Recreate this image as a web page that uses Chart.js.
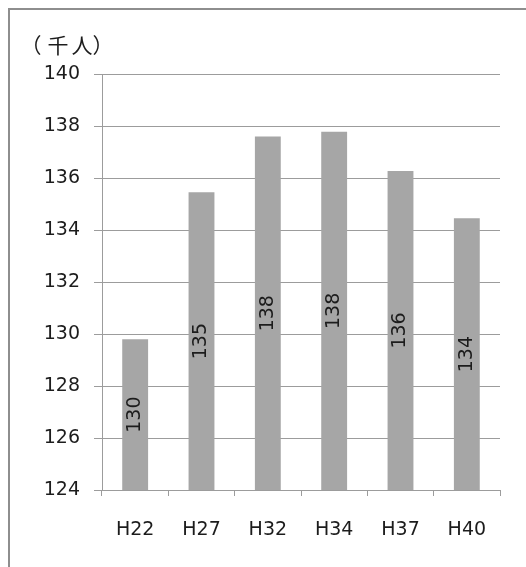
<!DOCTYPE html>
<html>
<head>
<meta charset="utf-8">
<script src="https://cdn.jsdelivr.net/npm/chart.js@4/dist/chart.umd.min.js"></script>
<style>
  html, body { margin: 0; padding: 0; background: #fff; }
  body { width: 526px; height: 567px; position: relative; overflow: hidden; }
  .frame {
    position: absolute; left: 8px; top: 8px; width: 640px; height: 640px;
    border-left: 2px solid #8e8e8e; border-top: 2px solid #8e8e8e;
  }
  .wrap { position: absolute; left: 0; top: 0; width: 526px; height: 567px; }
</style>
</head>
<body>
<div class="frame"></div>
<div class="wrap"><canvas id="chart" width="526" height="567"></canvas></div>
<script>
// 年次別の人口推計（千人）
const categories = ['H22', 'H27', 'H32', 'H34', 'H37', 'H40'];
const population = [129.8, 135.45, 137.6, 137.78, 136.27, 134.45];
const unitLabel = '（千人）';
const yMin = 124, yMax = 140, yStep = 2;

const FONT = "'DejaVu Sans', 'Noto Sans CJK JP', sans-serif";
const TEXT = '#1c1c1c';
const LINE = '#9c9c9c';

// 単位ラベル（左上）：一文字ずつ中心位置を指定して描く
const unitPlugin = {
  id: 'unitLabel',
  afterDraw(chart) {
    const ctx = chart.ctx;
    const centers = [31, 58, 82, 103];
    ctx.save();
    ctx.font = "21px 'Noto Sans CJK JP', sans-serif";
    ctx.fillStyle = TEXT;
    ctx.textAlign = 'center';
    ctx.textBaseline = 'middle';
    Array.from(unitLabel).forEach((ch, i) => {
      ctx.fillText(ch, centers[i], 45);
    });
    ctx.restore();
  }
};

// 棒の中央に縦書き（回転）で値を表示
const barValuePlugin = {
  id: 'barValues',
  afterDatasetsDraw(chart) {
    const ctx = chart.ctx;
    const meta = chart.getDatasetMeta(0);
    const values = chart.data.datasets[0].data;
    const yScale = chart.scales.y;
    ctx.save();
    ctx.font = '19px ' + FONT;
    ctx.fillStyle = TEXT;
    ctx.textAlign = 'center';
    ctx.textBaseline = 'middle';
    meta.data.forEach((bar, i) => {
      const x = bar.x;
      const top = yScale.getPixelForValue(values[i]);
      const base = yScale.getPixelForValue(yMin);
      const cy = (top + base) / 2;
      ctx.save();
      ctx.translate(x, cy);
      ctx.rotate(-Math.PI / 2);
      ctx.fillText(String(Math.round(values[i])), 0, 0);
      ctx.restore();
    });
    ctx.restore();
  }
};

new Chart(document.getElementById('chart'), {
  type: 'bar',
  data: {
    labels: categories,
    datasets: [{
      data: population,
      backgroundColor: '#a6a6a6',
      borderWidth: 0,
      categoryPercentage: 1,
      barPercentage: 0.39
    }]
  },
  options: {
    responsive: false,
    animation: false,
    devicePixelRatio: 1,
    layout: { padding: { left: 0, right: 26, top: 74, bottom: 0 } },
    plugins: {
      legend: { display: false },
      tooltip: { enabled: false },
      title: { display: false }
    },
    scales: {
      x: {
        offset: true,
        grid: {
          display: true,
          drawOnChartArea: false,
          drawTicks: true,
          tickLength: 6,
          color: LINE,
          offset: true
        },
        border: { display: true, color: LINE, width: 1 },
        ticks: {
          color: TEXT,
          font: { family: FONT, size: 19 },
          padding: 23,
          maxRotation: 0
        },
        afterFit(scale) { scale.height = 77; }
      },
      y: {
        min: yMin,
        max: yMax,
        grid: {
          color: LINE,
          tickLength: 8,
          drawTicks: true
        },
        border: { display: true, color: LINE, width: 1 },
        ticks: {
          stepSize: yStep,
          color: TEXT,
          font: { family: FONT, size: 19 },
          padding: 14
        },
        afterFit(scale) { scale.width = 102; }
      }
    }
  },
  plugins: [unitPlugin, barValuePlugin]
});
</script>
</body>
</html>
